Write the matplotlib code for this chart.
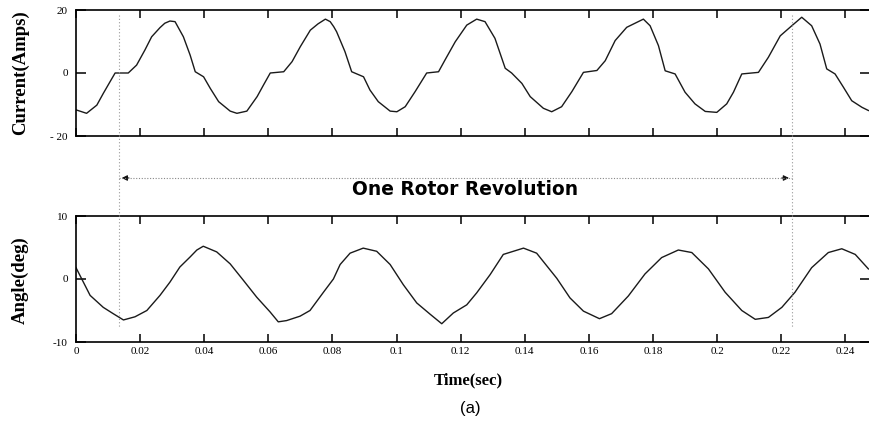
import matplotlib
matplotlib.use("Agg")
import matplotlib.pyplot as plt
from matplotlib.lines import Line2D
from matplotlib.patches import FancyArrowPatch
from matplotlib.transforms import blended_transform_factory

# phase current trace
t_current = [0, 0.0033, 0.0065, 0.0085, 0.0106, 0.0122, 0.0163, 0.0189, 0.0215, 0.0236,
             0.0262, 0.0277, 0.0293, 0.0309, 0.0335, 0.0356, 0.0372, 0.0398, 0.0419, 0.0445,
             0.0481, 0.0502, 0.0533, 0.0565, 0.0585, 0.0606, 0.0648, 0.0674, 0.0700, 0.0731,
             0.0755, 0.0778, 0.0793, 0.0804, 0.0813, 0.0839, 0.0860, 0.0897, 0.0917, 0.0943,
             0.0980, 0.1001, 0.1027, 0.1058, 0.1094, 0.1131, 0.1151, 0.1183, 0.1219, 0.1250,
             0.1276, 0.1307, 0.1339, 0.1359, 0.1391, 0.1417, 0.1458, 0.1484, 0.1515, 0.1547,
             0.1583, 0.1625, 0.1651, 0.1682, 0.1718, 0.1750, 0.1770, 0.1791, 0.1817, 0.1838,
             0.1869, 0.1900, 0.1931, 0.1963, 0.1999, 0.2030, 0.2051, 0.2077, 0.2129, 0.2160,
             0.2197, 0.2233, 0.2264, 0.2295, 0.2321, 0.2342, 0.2368, 0.2394, 0.2420, 0.2452,
             0.2472]
current = [-11.7, -12.8, -10.2, -6.5, -2.8, 0.0, 0.0, 2.5, 7.3, 11.5,
           14.4, 15.8, 16.5, 16.3, 11.5, 5.7, 0.4, -1.2, -4.9, -9.1,
           -12.1, -12.8, -12.1, -7.5, -3.8, 0.0, 0.4, 3.6, 8.4, 13.6,
           15.6, 17.1, 16.3, 14.7, 13.1, 6.8, 0.4, -1.2, -5.4, -9.1,
           -12.1, -12.3, -10.7, -5.9, 0.0, 0.4, 4.1, 9.9, 15.2, 17.1,
           16.3, 11.0, 1.5, 0.0, -3.3, -7.5, -11.2, -12.3, -10.7, -5.9,
           0.2, 0.8, 3.9, 10.3, 14.5, 16.1, 17.1, 15.0, 8.7, 0.7,
           -0.3, -6.1, -9.8, -12.2, -12.5, -9.8, -6.1, -0.3, 0.2, 5.0,
           11.8, 15.0, 17.7, 15.0, 9.2, 1.3, -0.3, -4.5, -8.8, -10.9,
           -11.9]

# load angle trace
t_angle = [0, 0.0044, 0.0085, 0.0116, 0.0148, 0.0184, 0.0221, 0.0262, 0.0293, 0.0324,
           0.0356, 0.0377, 0.0397, 0.0439, 0.0481, 0.0522, 0.0564, 0.0605, 0.0631, 0.0657,
           0.0699, 0.0730, 0.0772, 0.0803, 0.0824, 0.0855, 0.0896, 0.0938, 0.0980, 0.1021,
           0.1063, 0.1105, 0.1141, 0.1177, 0.1219, 0.1250, 0.1292, 0.1333, 0.1396, 0.1437,
           0.1500, 0.1541, 0.1583, 0.1633, 0.1671, 0.1723, 0.1775, 0.1827, 0.1879, 0.1921,
           0.1973, 0.2025, 0.2077, 0.2119, 0.2160, 0.2202, 0.2243, 0.2295, 0.2347, 0.2389,
           0.2431, 0.2472]
angle = [1.8, -2.6, -4.5, -5.5, -6.5, -6.0, -5.0, -2.6, -0.5, 1.9,
         3.5, 4.6, 5.2, 4.3, 2.4, -0.2, -2.9, -5.2, -6.8, -6.6,
         -5.9, -5.0, -2.1, 0.0, 2.3, 4.1, 4.9, 4.4, 2.3, -0.9,
         -3.8, -5.6, -7.1, -5.4, -4.1, -2.2, 0.7, 3.9, 4.9, 4.1,
         0.1, -3.0, -5.1, -6.3, -5.5, -2.7, 0.8, 3.4, 4.6, 4.2,
         1.6, -2.1, -5.0, -6.4, -6.1, -4.5, -2.1, 1.8, 4.2, 4.8,
         3.9, 1.6]

xticks = [0, 0.02, 0.04, 0.06, 0.08, 0.1, 0.12, 0.14, 0.16, 0.18, 0.2, 0.22, 0.24]
xtick_labels = ["0", "0.02", "0.04", "0.06", "0.08", "0.1", "0.12", "0.14", "0.16",
                "0.18", "0.2", "0.22", "0.24"]
rev_start, rev_end = 0.0134, 0.2233

serif = "Liberation Serif"

fig = plt.figure(figsize=(8.7, 4.23), dpi=100)
ax1 = fig.add_axes([76 / 870, 1 - 136 / 423, 1 - 76 / 870, 126 / 423])
ax2 = fig.add_axes([76 / 870, 1 - 342 / 423, 1 - 76 / 870, 126 / 423])

ax1.plot(t_current, current, color="#1a1a1a", lw=1.0)
ax2.plot(t_angle, angle, color="#1a1a1a", lw=1.0)

for ax, lim, ticks in [(ax1, 20, [-20, 0, 20]), (ax2, 10, [-10, 0, 10])]:
    ax.set_xlim(0, 0.2477)
    ax.set_ylim(-lim, lim)
    ax.set_xticks(xticks)
    ax.set_yticks(ticks)
    ax.set_yticklabels([str(v).replace("-", "- ") if v == -20 else str(v) for v in ticks],
                       fontfamily=serif, fontsize=8)
    ax.tick_params(axis="x", direction="in", top=True, length=6, width=1.1)
    ax.tick_params(axis="y", direction="in", right=True, length=7, width=1.1, pad=6)
    ax.spines["right"].set_visible(False)
    for s in ["left", "top", "bottom"]:
        ax.spines[s].set_linewidth(1.2)

ax1.set_xticklabels([])
ax2.set_xticklabels(xtick_labels, fontfamily=serif, fontsize=8)

fig.text(20 / 870, 1 - 73 / 423, "Current(Amps)", rotation=90, ha="center", va="center",
         fontfamily=serif, fontweight="bold", fontsize=13.5)
fig.text(20 / 870, 1 - 280 / 423, "Angle(deg)", rotation=90, ha="center", va="center",
         fontfamily=serif, fontweight="bold", fontsize=13.5)
fig.text(468 / 870, 1 - 380 / 423, "Time(sec)", ha="center", va="center",
         fontfamily=serif, fontweight="bold", fontsize=12)
fig.text(470 / 870, 1 - 408 / 423, "(a)", ha="center", va="center",
         fontfamily="Liberation Sans", fontsize=12)

# markers for one full revolution, spanning both panels
trans = blended_transform_factory(ax1.transData, fig.transFigure)
for x in (rev_start, rev_end):
    fig.add_artist(Line2D([x, x], [1 - 15 / 423, 1 - 328 / 423], transform=trans,
                          color="#999999", lw=0.8, ls=(0, (1, 2))))

y_arrow = 1 - 178 / 423
fig.add_artist(Line2D([rev_start, rev_end], [y_arrow, y_arrow], transform=trans,
                      color="#888888", lw=0.8, ls=(0, (1, 1.5))))
for x0, x1 in [(rev_start + 0.004, rev_start), (rev_end - 0.004, rev_end)]:
    fig.add_artist(FancyArrowPatch((x0, y_arrow), (x1, y_arrow), transform=trans,
                                   arrowstyle="-|>", mutation_scale=8,
                                   color="#111111", lw=0.8))

fig.text(465 / 870, 1 - 189 / 423, "One Rotor Revolution", ha="center", va="center",
         fontfamily="DejaVu Sans", fontweight="bold", fontsize=13.4)

fig.savefig("out.png", dpi=100)
